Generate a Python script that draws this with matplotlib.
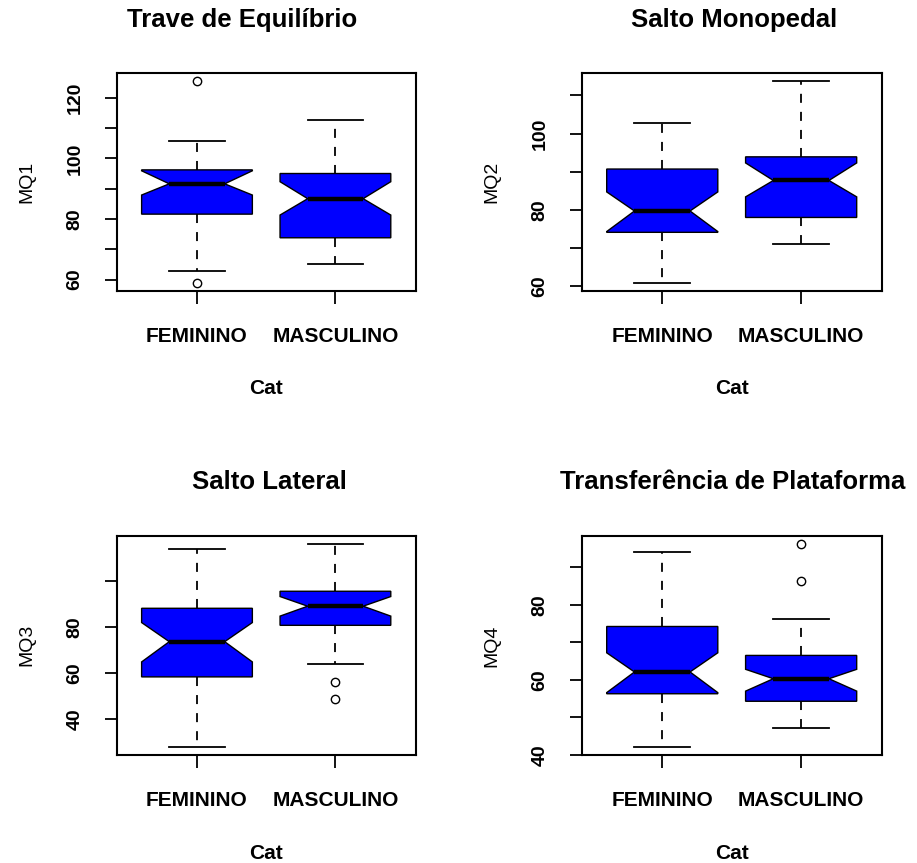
import numpy as np
import matplotlib
matplotlib.use('Agg')
import matplotlib.pyplot as plt

plt.rcParams['font.family'] = ['Liberation Sans', 'DejaVu Sans']

groups = ['FEMININO', 'MASCULINO']
titles = ['Trave de Equilíbrio', 'Salto Monopedal', 'Salto Lateral',
          'Transferência de Plataforma']
ylabels = ['MQ1', 'MQ2', 'MQ3', 'MQ4']

# box statistics per test, [FEMININO, MASCULINO]
whislo = [[62.9, 65.1], [60.9, 71.0], [28.0, 64.2], [42.2, 47.1]]
q1 = [[81.6, 73.8], [74.1, 78.0], [58.4, 80.8], [56.3, 54.3]]
med = [[91.6, 86.7], [79.7, 87.7], [73.7, 89.1], [62.1, 60.3]]
q3 = [[96.2, 95.0], [90.7, 93.9], [88.2, 95.6], [74.2, 66.5]]
whishi = [[105.7, 112.7], [102.8, 113.7], [114.0, 116.2], [94.0, 76.2]]
cilo = [[87.9, 81.3], [74.3, 83.4], [64.9, 84.8], [56.6, 57.0]]
cihi = [[95.9, 92.3], [84.7, 92.3], [82.0, 93.3], [67.2, 62.8]]
fliers = [[[125.4, 59.0], []], [[], []], [[], [56.0, 48.7]], [[], [96.2, 86.4]]]

# y axis ticks and which of them carry a label
yticks = [[60, 70, 80, 90, 100, 110, 120], [60, 70, 80, 90, 100, 110],
          [40, 60, 80, 100], [40, 50, 60, 70, 80, 90]]
ylabelled = [[60, 80, 100, 120], [60, 80, 100], [40, 60, 80], [40, 60, 80]]

W, H = 917, 863
fig = plt.figure(figsize=(W / 100, H / 100), dpi=100)

# panel layout in pixels: left, top, width, height
boxes_px = [(116.7, 73.3, 299, 217.4), (581.7, 73.3, 300, 217.4),
            (116.7, 535.7, 299, 219.3), (581.7, 535.7, 300, 219.3)]
title_pos = [(242, 20), (734, 20), (269, 482), (733, 482)]

for i in range(4):
    l, t, w, h = boxes_px[i]
    ax = fig.add_axes([l / W, 1 - (t + h) / H, w / W, h / H])
    stats = []
    for j in range(2):
        stats.append(dict(med=med[i][j], q1=q1[i][j], q3=q3[i][j],
                          whislo=whislo[i][j], whishi=whishi[i][j],
                          cilo=cilo[i][j], cihi=cihi[i][j],
                          fliers=fliers[i][j], label=groups[j]))
    ax.bxp(stats, positions=[1, 2], widths=0.8, shownotches=True,
           patch_artist=True,
           boxprops=dict(facecolor='#0000FF', edgecolor='black', linewidth=1),
           medianprops=dict(color='black', linewidth=3.2, solid_capstyle='butt'),
           whiskerprops=dict(color='black', linewidth=1.3, linestyle=(0, (5, 5))),
           capprops=dict(color='black', linewidth=1.3),
           flierprops=dict(marker='o', markersize=6, markerfacecolor='none',
                           markeredgecolor='black', markeredgewidth=1))

    # R style range: data extent plus 4 %
    vals = whislo[i] + whishi[i] + [v for f in fliers[i] for v in f]
    lo, hi = min(vals), max(vals)
    pad = (hi - lo) * 0.04
    ax.set_ylim(lo - pad, hi + pad)
    ax.set_xlim(0.42, 2.58)

    ax.set_yticks(yticks[i])
    ax.set_yticklabels([str(v) if v in ylabelled[i] else '' for v in yticks[i]],
                       rotation=90, va='center', fontsize=14, fontweight='bold')
    ax.set_xticks([1, 2])
    ax.set_xticklabels(groups, fontsize=15, fontweight='bold')
    ax.tick_params(axis='both', direction='out', length=9, width=1.3)
    ax.tick_params(axis='y', pad=15)
    ax.tick_params(axis='x', pad=17)
    for s in ax.spines.values():
        s.set_linewidth(1.5)

    ax.set_ylabel(ylabels[i], fontsize=14)
    ax.yaxis.label.set_va('center')
    ax.yaxis.set_label_coords(-0.30, 0.5)
    ax.set_xlabel('Cat', fontsize=15, fontweight='bold')
    ax.xaxis.label.set_va('center')
    ax.xaxis.set_label_coords(0.5, -0.45)

    tx, ty = title_pos[i]
    fig.text(tx / W, 1 - ty / H, titles[i], ha='center', va='center',
             fontsize=18.5, fontweight='bold')

fig.savefig('out.png', dpi=100)
